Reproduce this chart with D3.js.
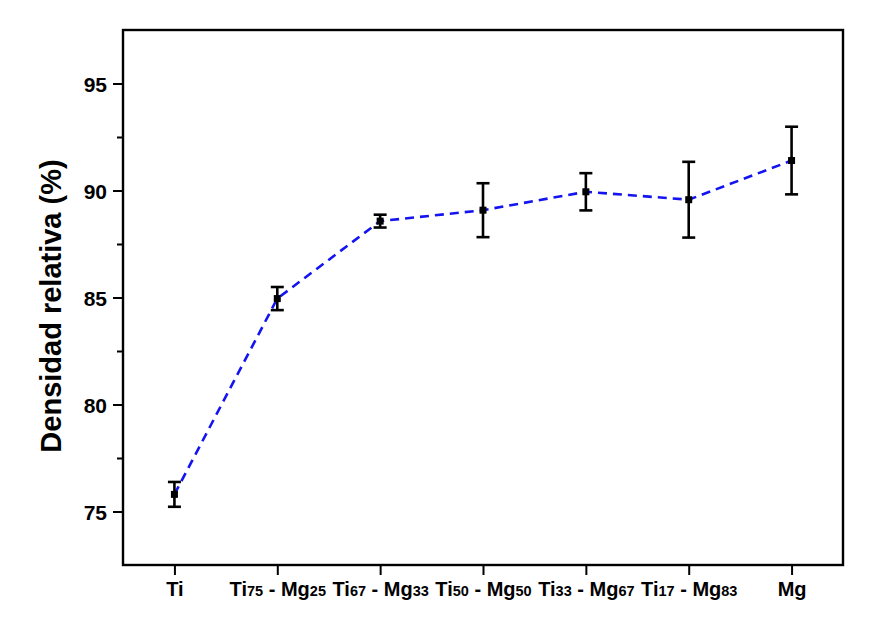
<!DOCTYPE html>
<html>
<head>
<meta charset="utf-8">
<script src="https://cdn.jsdelivr.net/npm/d3@7"></script>
<style>
	body { margin: 0; background: #fff; }
	text { font-family: "Liberation Sans", Arial, sans-serif; font-weight: bold; fill: #000; }
</style>
</head>
<body>
<div id="chart"></div>
<script>
// categories: [main, sub, main, sub] pieces for each label
const categories = ["Ti", "Ti75-Mg25", "Ti67-Mg33", "Ti50-Mg50", "Ti33-Mg67", "Ti17-Mg83", "Mg"];
const labelParts = [
	[["Ti", 0]],
	[["Ti", 0], ["75", 1], [" - Mg", 0], ["25", 1]],
	[["Ti", 0], ["67", 1], [" - Mg", 0], ["33", 1]],
	[["Ti", 0], ["50", 1], [" - Mg", 0], ["50", 1]],
	[["Ti", 0], ["33", 1], [" - Mg", 0], ["67", 1]],
	[["Ti", 0], ["17", 1], [" - Mg", 0], ["83", 1]],
	[["Mg", 0]]
];
const density = [75.8, 84.95, 88.57, 89.08, 89.94, 89.57, 91.4];
const errors = [0.58, 0.54, 0.3, 1.26, 0.87, 1.77, 1.58];
const yTicks = [75, 80, 85, 90, 95];
const yMinor = [77.5, 82.5, 87.5, 92.5];

const W = 884, H = 622;
const margin = { top: 30, right: 41, bottom: 57, left: 123 };
const width = W - margin.left - margin.right,
	height = H - margin.top - margin.bottom;

const svg = d3.select("#chart")
	.append("svg")
	.attr("width", W)
	.attr("height", H);

const g = svg.append("g")
	.attr("transform", `translate(${margin.left},${margin.top})`);

const x = d3.scalePoint().domain(categories).range([0, width]).padding(0.5);
const y = d3.scaleLinear().domain([72.5, 97.5]).range([height, 0]);

// minor y ticks
g.append("g")
	.call(d3.axisLeft(y).tickValues(yMinor).tickSize(6).tickFormat(""))
	.call(a => a.select(".domain").remove())
	.selectAll("line").attr("stroke-width", 2);

// major y ticks
const yAxis = g.append("g")
	.call(d3.axisLeft(y).tickValues(yTicks).tickSize(10).tickPadding(6))
	.call(a => a.select(".domain").remove());
yAxis.selectAll("line").attr("stroke-width", 2);
yAxis.selectAll("text").style("font-size", "21px").attr("dy", "0.36em");

// x ticks
const xAxis = g.append("g")
	.attr("transform", `translate(0,${height})`)
	.call(d3.axisBottom(x).tickSize(10).tickFormat(""))
	.call(a => a.select(".domain").remove());
xAxis.selectAll("line").attr("stroke-width", 2);

xAxis.selectAll(".tick")
	.append("text")
	.attr("y", 31)
	.attr("text-anchor", "middle")
	.each(function (d, i) {
		const t = d3.select(this);
		labelParts[i].forEach(p => {
			t.append("tspan")
				.text(p[0])
				.style("font-size", p[1] ? "14.5px" : "20px");
		});
	});

// frame
g.append("rect")
	.attr("width", width)
	.attr("height", height)
	.attr("fill", "none")
	.attr("stroke", "#000")
	.attr("stroke-width", 2.4);

// y title
svg.append("text")
	.attr("transform", `translate(61,306) rotate(-90)`)
	.attr("text-anchor", "middle")
	.style("font-size", "29px")
	.text("Densidad relativa (%)");

const pts = categories.map((c, i) => ({ c: c, v: density[i], e: errors[i] }));

// dashed line
g.append("path")
	.datum(pts)
	.attr("fill", "none")
	.attr("stroke", "#1414f0")
	.attr("stroke-width", 2.6)
	.attr("stroke-dasharray", "9,6")
	.attr("d", d3.line().x(d => x(d.c)).y(d => y(d.v)));

// error bars
const eb = g.append("g").attr("stroke", "#000").attr("stroke-width", 2.6);
eb.selectAll(".stem").data(pts).join("line")
	.attr("x1", d => x(d.c)).attr("x2", d => x(d.c))
	.attr("y1", d => y(d.v - d.e)).attr("y2", d => y(d.v + d.e));
eb.selectAll(".capT").data(pts).join("line")
	.attr("x1", d => x(d.c) - 6.5).attr("x2", d => x(d.c) + 6.5)
	.attr("y1", d => y(d.v + d.e)).attr("y2", d => y(d.v + d.e));
eb.selectAll(".capB").data(pts).join("line")
	.attr("x1", d => x(d.c) - 6.5).attr("x2", d => x(d.c) + 6.5)
	.attr("y1", d => y(d.v - d.e)).attr("y2", d => y(d.v - d.e));

// markers
g.selectAll(".pt").data(pts).join("rect")
	.attr("x", d => x(d.c) - 3.5)
	.attr("y", d => y(d.v) - 3.5)
	.attr("width", 7)
	.attr("height", 7)
	.attr("fill", "#000");
</script>
</body>
</html>
